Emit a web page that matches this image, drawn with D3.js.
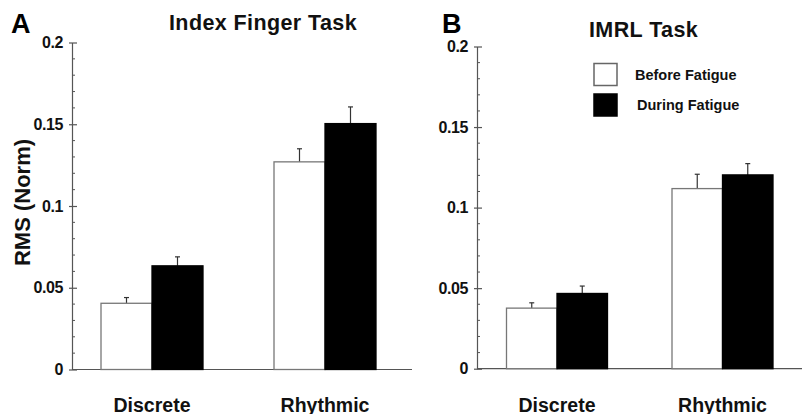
<!DOCTYPE html>
<html>
<head>
<meta charset="utf-8">
<script src="https://cdn.jsdelivr.net/npm/d3@7"></script>
<style>
  html, body { margin: 0; padding: 0; background: #fff; }
  svg { display: block; font-family: "Liberation Sans", Arial, Helvetica, sans-serif; font-weight: bold; }
</style>
</head>
<body>
<svg id="chart" width="802" height="414"></svg>
<script>
// Task conditions on the x axis
const categories = ["Discrete", "Rhythmic"];
const seriesNames = ["Before Fatigue", "During Fatigue"];
const yTicks = [0, 0.05, 0.1, 0.15, 0.2];
const yTickLabels = ["0", "0.05", "0.1", "0.15", "0.2"];

// Panel A: Index Finger Task (normalised RMS, mean and SE)
const indexBefore = [0.0405, 0.127];
const indexDuring = [0.0634, 0.1504];
const indexBeforeErr = [0.0035, 0.008];
const indexDuringErr = [0.0055, 0.0102];

// Panel B: IMRL Task
const imrlBefore = [0.0376, 0.1118];
const imrlDuring = [0.0467, 0.1203];
const imrlBeforeErr = [0.0033, 0.0089];
const imrlDuringErr = [0.0046, 0.007];

const svg = d3.select("#chart");
const fills = ["#ffffff", "#000000"];
const axisColor = "#555";

function drawPanel(opt) {
  const g = svg.append("g");
  const y = d3.scaleLinear().domain([0, 0.2]).range([opt.y0, opt.y1]);
  const xGroup = d3.scalePoint().domain(categories).range(opt.groupCenters);
  const xSeries = d3.scaleBand().domain(seriesNames).range([-opt.barW, opt.barW]).padding(0);

  // minor ticks (every 0.01), drawn inward
  const minor = d3.range(0, 0.2001, 0.01).filter(v => Math.abs(v / 0.05 - Math.round(v / 0.05)) > 1e-6);
  g.append("g").selectAll("line").data(minor).join("line")
    .attr("x1", opt.axisX).attr("x2", opt.axisX + 3)
    .attr("y1", d => y(d)).attr("y2", d => y(d))
    .attr("stroke", axisColor).attr("stroke-width", 1);

  // y axis with major ticks crossing the spine
  const yAxis = d3.axisLeft(y).tickValues(yTicks)
    .tickFormat((d, i) => yTickLabels[i]).tickSize(0).tickPadding(9);
  const ya = g.append("g").attr("transform", `translate(${opt.axisX},0)`).call(yAxis);
  ya.select(".domain").attr("stroke", axisColor).attr("stroke-width", 1.2);
  ya.selectAll(".tick line").remove();
  ya.selectAll(".tick").append("line")
    .attr("x1", -3).attr("x2", 5).attr("stroke", axisColor).attr("stroke-width", 1.2);
  ya.selectAll(".tick text")
    .attr("fill", "#111").style("font-size", "16px").style("font-weight", "bold")
    .style("font-family", "'Liberation Sans', Arial, sans-serif").style("letter-spacing", "-0.4px");

  // x axis line
  g.append("line")
    .attr("x1", opt.axisX).attr("x2", opt.xEnd)
    .attr("y1", y(0)).attr("y2", y(0))
    .attr("stroke", axisColor).attr("stroke-width", 1.2);

  const rows = [];
  categories.forEach((c, i) => {
    rows.push({ cat: c, s: 0, v: opt.before[i], e: opt.beforeErr[i] });
    rows.push({ cat: c, s: 1, v: opt.during[i], e: opt.duringErr[i] });
  });

  // error bars (upper half only)
  const eb = g.append("g").selectAll("g").data(rows).join("g")
    .attr("transform", d => `translate(${xGroup(d.cat) + xSeries(seriesNames[d.s]) + xSeries.bandwidth() / 2},0)`);
  eb.append("line").attr("x1", 0).attr("x2", 0)
    .attr("y1", d => y(d.v)).attr("y2", d => y(d.v + d.e))
    .attr("stroke", "#333").attr("stroke-width", 1.2);
  eb.append("line").attr("x1", -2.5).attr("x2", 2.5)
    .attr("y1", d => y(d.v + d.e)).attr("y2", d => y(d.v + d.e))
    .attr("stroke", "#333").attr("stroke-width", 1.2);

  // bars
  g.append("g").selectAll("rect").data(rows).join("rect")
    .attr("x", d => xGroup(d.cat) + xSeries(seriesNames[d.s]))
    .attr("width", xSeries.bandwidth())
    .attr("y", d => y(d.v))
    .attr("height", d => y(0) - y(d.v))
    .attr("fill", d => fills[d.s])
    .attr("stroke", d => d.s === 0 ? "#777" : "#000")
    .attr("stroke-width", 1.3);

  // category labels
  g.append("g").selectAll("text").data(categories).join("text")
    .attr("x", d => xGroup(d)).attr("y", 411.5)
    .attr("text-anchor", "middle")
    .style("font-size", "19.5px").attr("fill", "#111")
    .text(d => d);

  // panel letter and title
  g.append("text").attr("x", opt.letterX).attr("y", 32.5)
    .style("font-size", "27px").attr("fill", "#000").text(opt.letter);
  g.append("text").attr("x", opt.titleX).attr("y", opt.titleY)
    .attr("text-anchor", opt.titleAnchor)
    .style("font-size", "21.5px").style("letter-spacing", "0.4px").attr("fill", "#111")
    .text(opt.title);
  return g;
}

drawPanel({
  axisX: 72, xEnd: 412, y0: 369.5, y1: 42.5, groupCenters: [152, 325], barW: 51,
  before: indexBefore, during: indexDuring, beforeErr: indexBeforeErr, duringErr: indexDuringErr,
  letter: "A", letterX: 11, title: "Index Finger Task", titleX: 263, titleY: 30, titleAnchor: "middle"
});

drawPanel({
  axisX: 477, xEnd: 802, y0: 368.7, y1: 46.5, groupCenters: [557, 722.5], barW: 50.5,
  before: imrlBefore, during: imrlDuring, beforeErr: imrlBeforeErr, duringErr: imrlDuringErr,
  letter: "B", letterX: 442, title: "IMRL Task", titleX: 589, titleY: 37, titleAnchor: "start"
});

// y axis title
svg.append("text")
  .attr("transform", "translate(29.5,202.5) rotate(-90)")
  .attr("text-anchor", "middle")
  .style("font-size", "22px").attr("fill", "#111")
  .text("RMS (Norm)");

// legend
const legend = svg.append("g");
const legendRows = [
  { name: seriesNames[0], fill: fills[0], stroke: "#666", y: 63.5, tx: 635, ty: 80 },
  { name: seriesNames[1], fill: fills[1], stroke: "#000", y: 94, tx: 637, ty: 110 }
];
legend.selectAll("rect").data(legendRows).join("rect")
  .attr("x", 594).attr("y", d => d.y).attr("width", 23).attr("height", 22)
  .attr("fill", d => d.fill).attr("stroke", d => d.stroke).attr("stroke-width", 1.5);
legend.selectAll("text").data(legendRows).join("text")
  .attr("x", d => d.tx).attr("y", d => d.ty)
  .style("font-size", "14.5px").attr("fill", "#111")
  .text(d => d.name);
</script>
</body>
</html>
